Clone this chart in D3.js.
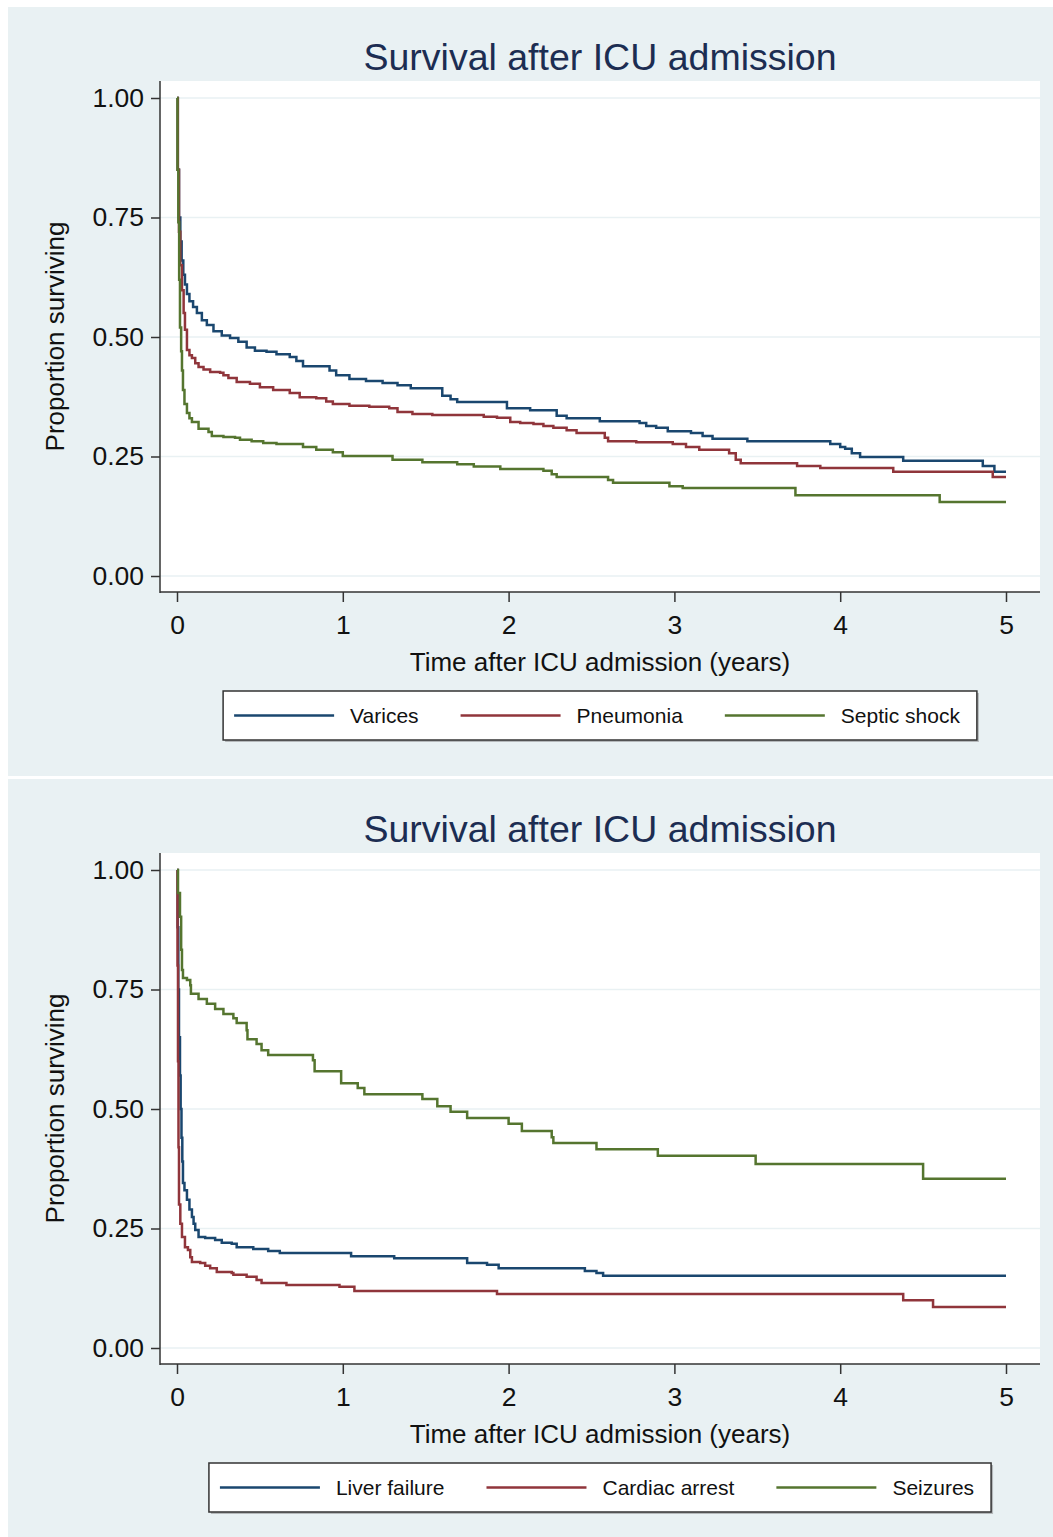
<!DOCTYPE html>
<html>
<head>
<meta charset="utf-8">
<script src="https://cdn.jsdelivr.net/npm/d3@7"></script>
<style>
  body { margin: 0; background: #fff; }
  text { font-family: "Liberation Sans", Arial, sans-serif; }
</style>
</head>
<body>
<div class="chart"></div>
<script>
// y ticks and x ticks (same on both panels)
const yTicks = [0, 0.25, 0.5, 0.75, 1]
const xTicks = [0, 1, 2, 3, 4, 5]
const chartTitle = "Survival after ICU admission"
const xTitle = "Time after ICU admission (years)"
const yTitle = "Proportion surviving"

// top panel: [years, proportion surviving] at each step
const varices = [[0,1],[0.005,0.85],[0.012,0.75],[0.02,0.70],[0.028,0.66],[0.038,0.63],[0.048,0.61],[0.06,0.59],[0.075,0.575],[0.097,0.563],[0.12,0.55],[0.15,0.535],[0.18,0.525],[0.22,0.512],[0.27,0.503],[0.32,0.498],[0.37,0.49],[0.42,0.478],[0.47,0.471],[0.54,0.469],[0.6,0.464],[0.68,0.458],[0.72,0.45],[0.76,0.439],[0.92,0.43],[0.96,0.42],[1.04,0.412],[1.14,0.408],[1.24,0.404],[1.33,0.399],[1.41,0.393],[1.60,0.377],[1.65,0.37],[1.69,0.364],[1.99,0.351],[2.13,0.347],[2.29,0.335],[2.35,0.33],[2.55,0.324],[2.79,0.32],[2.83,0.314],[2.89,0.31],[2.96,0.303],[3.1,0.299],[3.17,0.293],[3.23,0.287],[3.44,0.282],[3.94,0.276],[4.0,0.27],[4.03,0.266],[4.07,0.257],[4.12,0.249],[4.38,0.241],[4.86,0.230],[4.93,0.218],[5.0,0.218]]
const pneumonia = [[0,1],[0.005,0.85],[0.012,0.72],[0.02,0.65],[0.03,0.598],[0.04,0.55],[0.048,0.515],[0.06,0.473],[0.075,0.462],[0.09,0.456],[0.11,0.445],[0.13,0.437],[0.16,0.432],[0.2,0.427],[0.26,0.425],[0.28,0.42],[0.31,0.414],[0.36,0.406],[0.44,0.402],[0.5,0.395],[0.58,0.389],[0.68,0.383],[0.74,0.374],[0.84,0.372],[0.9,0.365],[0.94,0.36],[1.04,0.356],[1.16,0.354],[1.28,0.351],[1.33,0.343],[1.42,0.339],[1.54,0.337],[1.85,0.333],[1.93,0.331],[2.01,0.322],[2.07,0.32],[2.15,0.318],[2.21,0.314],[2.27,0.31],[2.35,0.305],[2.41,0.299],[2.58,0.289],[2.60,0.282],[2.77,0.28],[2.99,0.276],[3.07,0.27],[3.15,0.264],[3.33,0.257],[3.37,0.243],[3.40,0.236],[3.74,0.23],[3.88,0.226],[4.32,0.218],[4.92,0.207],[5.0,0.207]]
const septicShock = [[0,1],[0.003,0.85],[0.008,0.74],[0.013,0.62],[0.018,0.52],[0.025,0.47],[0.03,0.43],[0.036,0.389],[0.045,0.36],[0.06,0.341],[0.075,0.33],[0.09,0.322],[0.13,0.308],[0.19,0.301],[0.21,0.293],[0.28,0.291],[0.35,0.289],[0.38,0.285],[0.45,0.282],[0.52,0.278],[0.60,0.276],[0.76,0.27],[0.84,0.264],[0.94,0.259],[1.0,0.251],[1.30,0.243],[1.48,0.238],[1.69,0.234],[1.79,0.229],[1.95,0.224],[2.21,0.22],[2.26,0.213],[2.29,0.207],[2.60,0.201],[2.63,0.195],[2.97,0.188],[3.05,0.184],[3.73,0.169],[4.6,0.155],[5.0,0.155]]

// bottom panel
const liverFailure = [[0,1],[0.004,0.88],[0.008,0.75],[0.012,0.65],[0.018,0.57],[0.022,0.5],[0.027,0.44],[0.032,0.39],[0.036,0.345],[0.045,0.33],[0.06,0.31],[0.075,0.29],[0.09,0.274],[0.1,0.26],[0.11,0.247],[0.13,0.232],[0.17,0.23],[0.23,0.226],[0.27,0.22],[0.33,0.218],[0.36,0.211],[0.46,0.207],[0.55,0.203],[0.62,0.199],[1.05,0.192],[1.31,0.188],[1.75,0.178],[1.87,0.174],[1.94,0.167],[2.46,0.161],[2.53,0.157],[2.57,0.151],[5.0,0.151]]
const cardiacArrest = [[0,1],[0.003,0.8],[0.006,0.6],[0.009,0.42],[0.012,0.3],[0.02,0.26],[0.03,0.232],[0.048,0.211],[0.066,0.205],[0.08,0.19],[0.09,0.18],[0.14,0.178],[0.17,0.172],[0.2,0.167],[0.24,0.159],[0.33,0.157],[0.34,0.153],[0.42,0.149],[0.48,0.142],[0.51,0.136],[0.66,0.132],[0.98,0.128],[1.07,0.119],[1.93,0.113],[4.38,0.1],[4.56,0.086],[5.0,0.086]]
const seizures = [[0,1],[0.006,0.952],[0.018,0.902],[0.025,0.833],[0.03,0.791],[0.036,0.774],[0.06,0.77],[0.08,0.759],[0.084,0.741],[0.13,0.73],[0.18,0.72],[0.23,0.709],[0.28,0.699],[0.34,0.69],[0.36,0.68],[0.42,0.665],[0.425,0.646],[0.48,0.636],[0.51,0.623],[0.55,0.613],[0.82,0.602],[0.83,0.579],[0.99,0.554],[1.09,0.544],[1.13,0.531],[1.48,0.521],[1.57,0.506],[1.65,0.494],[1.75,0.481],[2.0,0.469],[2.08,0.454],[2.26,0.441],[2.27,0.429],[2.53,0.416],[2.90,0.402],[3.49,0.385],[4.5,0.354],[5.0,0.354]]

// Stata s2color
const colors = ["#1a476f", "#90353b", "#55752f"]
const bg = "#e9f1f3"

const svg = d3.select(".chart").append("svg")
  .attr("width", 1053)
  .attr("height", 1537)

// one Stata-like panel
function drawPanel(top, series, names) {
  const g = svg.append("g").attr("transform", `translate(0,${top})`)

  g.append("rect")
    .attr("x", 8).attr("y", 7)
    .attr("width", 1045).attr("height", 769)
    .attr("fill", bg)

  // plot region
  const region = { left: 160, right: 1040, top: 81, bottom: 592 }
  g.append("rect")
    .attr("x", region.left).attr("y", region.top)
    .attr("width", region.right - region.left)
    .attr("height", region.bottom - region.top)
    .attr("fill", "#fff")

  const x = d3.scaleLinear().domain([0, 5]).range([177, 1006])
  const y = d3.scaleLinear().domain([0, 1]).range([576, 98])

  // grid
  g.append("g").selectAll("line").data(yTicks).join("line")
    .attr("x1", region.left).attr("x2", region.right)
    .attr("y1", (d) => y(d)).attr("y2", (d) => y(d))
    .attr("stroke", bg).attr("stroke-width", 1.5)

  // axes
  const yAxis = g.append("g")
    .attr("transform", `translate(${region.left},0)`)
    .call(d3.axisLeft(y).tickValues(yTicks).tickFormat(d3.format(".2f"))
      .tickSize(9).tickSizeOuter(0).tickPadding(7))
  const xAxis = g.append("g")
    .attr("transform", `translate(0,${region.bottom})`)
    .call(d3.axisBottom(x).tickValues(xTicks).tickFormat(d3.format("d"))
      .tickSize(10).tickSizeOuter(0).tickPadding(13))
  ;[yAxis, xAxis].forEach((a) => {
    a.select(".domain").remove()
    a.selectAll(".tick line").attr("stroke", "#333").attr("stroke-width", 1.5)
    a.selectAll("text").attr("font-size", 26.5).attr("fill", "#111")
      .style("font-family", '"Liberation Sans", Arial, sans-serif')
  })
  g.append("line")
    .attr("x1", region.left).attr("x2", region.left)
    .attr("y1", region.top).attr("y2", region.bottom + 1)
    .attr("stroke", "#333").attr("stroke-width", 1.5)
  g.append("line")
    .attr("x1", region.left).attr("x2", region.right)
    .attr("y1", region.bottom).attr("y2", region.bottom)
    .attr("stroke", "#333").attr("stroke-width", 1.5)

  // curves
  const line = d3.line()
    .x((d) => x(d[0]))
    .y((d) => y(d[1]))
    .curve(d3.curveStepAfter)
  series.forEach((s, i) => {
    g.append("path")
      .datum(s)
      .attr("fill", "none")
      .attr("stroke", colors[i])
      .attr("stroke-width", 2.5)
      .attr("d", line)
  })

  // titles
  const cx = (region.left + region.right) / 2
  g.append("text")
    .attr("x", cx).attr("y", 70)
    .attr("text-anchor", "middle")
    .attr("font-size", 37.5)
    .attr("fill", "#1c2d52")
    .text(chartTitle)
  g.append("text")
    .attr("x", cx).attr("y", 671)
    .attr("text-anchor", "middle")
    .attr("font-size", 26)
    .attr("fill", "#111")
    .text(xTitle)
  g.append("text")
    .attr("transform", `translate(64,${(region.top + region.bottom) / 2}) rotate(-90)`)
    .attr("text-anchor", "middle")
    .attr("font-size", 26)
    .attr("fill", "#111")
    .text(yTitle)

  // legend
  const lg = g.append("g")
  const keyLen = 100, keyGap = 16, itemGap = 42, padL = 11, padR = 17
  const items = []
  let cursor = 0
  names.forEach((n, i) => {
    const t = lg.append("text")
      .attr("font-size", 21)
      .attr("fill", "#111")
      .text(n)
    const w = t.node().getComputedTextLength()
    items.push({ t, start: cursor, i })
    cursor += keyLen + keyGap + w + (i < names.length - 1 ? itemGap : 0)
  })
  const boxW = padL + cursor + padR
  const boxX = cx - boxW / 2
  const boxY = 691, boxH = 49, midY = boxY + boxH / 2
  lg.insert("rect", ":first-child")
    .attr("x", boxX).attr("y", boxY)
    .attr("width", boxW).attr("height", boxH)
    .attr("fill", "#fff").attr("stroke", "#333").attr("stroke-width", 1.5)
  lg.insert("rect", ":first-child")
    .attr("x", boxX + 2).attr("y", boxY + 2)
    .attr("width", boxW).attr("height", boxH)
    .attr("fill", "#b5b9bb")
  items.forEach((it) => {
    const x0 = boxX + padL + it.start
    lg.append("line")
      .attr("x1", x0).attr("x2", x0 + keyLen)
      .attr("y1", midY).attr("y2", midY)
      .attr("stroke", colors[it.i]).attr("stroke-width", 2.3)
    it.t.attr("x", x0 + keyLen + keyGap).attr("y", midY + 7.5)
  })
}

drawPanel(0, [varices, pneumonia, septicShock], ["Varices", "Pneumonia", "Septic shock"])
drawPanel(772, [liverFailure, cardiacArrest, seizures], ["Liver failure", "Cardiac arrest", "Seizures"])
</script>
</body>
</html>
